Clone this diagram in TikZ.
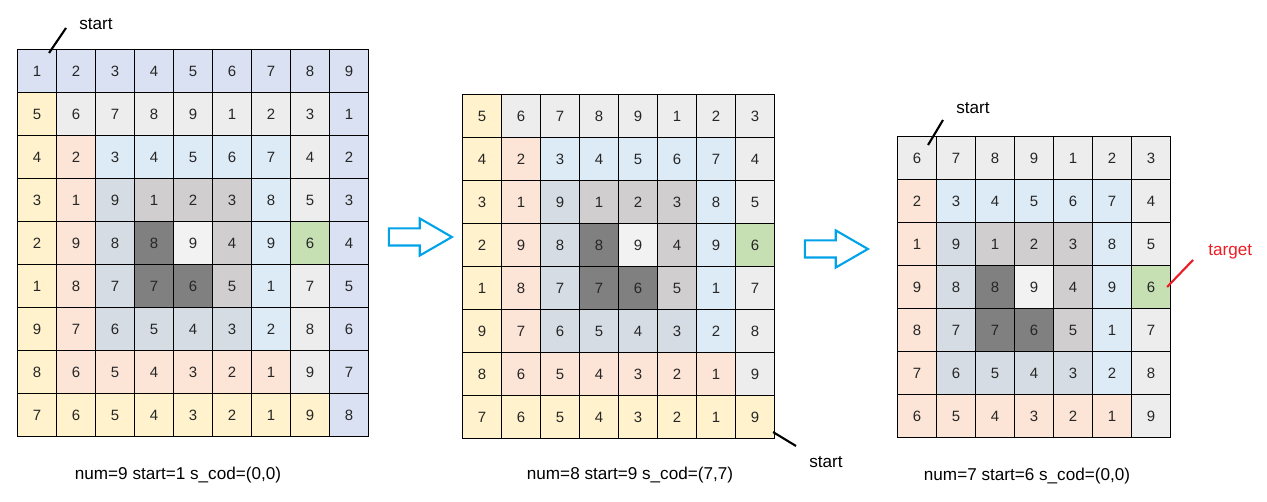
\documentclass[tikz,border=0pt]{standalone}
\usepackage{fontspec}
\setmainfont{Liberation Sans}
\usetikzlibrary{shapes.arrows}

\definecolor{colL}{HTML}{D9E1F2}
\definecolor{colY}{HTML}{FFF2CC}
\definecolor{colE}{HTML}{EDEDED}
\definecolor{colO}{HTML}{FCE4D6}
\definecolor{colB}{HTML}{DDEBF7}
\definecolor{colS}{HTML}{D6DCE4}
\definecolor{colG}{HTML}{D0CECE}
\definecolor{colK}{HTML}{808080}
\definecolor{colW}{HTML}{F2F2F2}
\definecolor{colN}{HTML}{C6E0B4}
\definecolor{flow}{RGB}{0,162,232}
\definecolor{mark red}{RGB}{237,28,36}

% the full 9x9 board, row by row
\def\boardnums{{1,2,3,4,5,6,7,8,9,
  5,6,7,8,9,1,2,3,1,
  4,2,3,4,5,6,7,4,2,
  3,1,9,1,2,3,8,5,3,
  2,9,8,8,9,4,9,6,4,
  1,8,7,7,6,5,1,7,5,
  9,7,6,5,4,3,2,8,6,
  8,6,5,4,3,2,1,9,7,
  7,6,5,4,3,2,1,9,8}}
\def\boardcols{{"L","L","L","L","L","L","L","L","L",
  "Y","E","E","E","E","E","E","E","L",
  "Y","O","B","B","B","B","B","E","L",
  "Y","O","S","G","G","G","B","E","L",
  "Y","O","S","K","W","G","B","N","L",
  "Y","O","S","K","K","G","B","E","L",
  "Y","O","S","S","S","S","B","E","L",
  "Y","O","O","O","O","O","O","E","L",
  "Y","Y","Y","Y","Y","Y","Y","Y","L"}}

% #1 name, #2/#3 top left, #4/#5 first row/col of the board, #6 size
\newcommand{\drawboard}[6]{%
  \foreach \i in {1,...,#6} {
    \foreach \j in {1,...,#6} {
      \pgfmathtruncatemacro\idx{(\i+#4-1)*9+(\j+#5-1)}
      \pgfmathtruncatemacro\val{\boardnums[\idx]}
      \pgfmathparse{\boardcols[\idx]}\let\tone\pgfmathresult
      \node[cell, fill=col\tone] (#1-\i-\j) at ({#2+(\j-1)*39},{#3+(\i-1)*43}) {\val};
    }
  }%
}

\begin{document}
\begin{tikzpicture}[x=0.02cm, y=-0.02cm,
  cell/.style={draw, line width=0.6pt, anchor=north west, inner sep=0pt,
    minimum width=0.78cm, minimum height=0.86cm, text=black!85,
    font=\fontsize{8.5}{10}\selectfont},
  caption/.style={font=\fontsize{9.75}{12}\selectfont},
  note/.style={inner sep=0pt, font=\fontsize{9.75}{12}\selectfont},
  pointer/.style={line width=1.2pt},
  flowarrow/.style={single arrow, draw=flow, line width=1.2pt, inner xsep=0pt,
    inner ysep=0.15cm, minimum height=1.26cm, single arrow head extend=0.2cm,
    single arrow tip angle=60}]

  \useasboundingbox (0,0) rectangle (1267,502);

  \drawboard{g1}{17}{49}{0}{0}{9}
  \drawboard{g2}{462}{94}{1}{0}{8}
  \drawboard{g3}{897}{136}{1}{1}{7}

  \node[flowarrow] (arr1) at (413,237) {};
  \node[flowarrow] (arr2) at (829,249) {};

  \node[caption] (cap1) at (178,475) {num=9 start=1 s\_cod=(0,0)};
  \node[caption] (cap2) at (630,475) {num=8 start=9 s\_cod=(7,7)};
  \node[caption] (cap3) at (1027,476) {num=7 start=6 s\_cod=(0,0)};

  % start markers
  \node[note, anchor=west] (st1) at (79,24) {start};
  \node[note, anchor=west] (st2) at (809,462) {start};
  \node[note, anchor=west] (st3) at (956,108) {start};
  \node[note, anchor=west, text=mark red] (tgt) at (1208,252) {target};

  \draw[pointer] ([shift={(-8,4)}]g1-1-1.north east) -- ([shift={(-13,4)}]st1.west);
  \draw[pointer] ([shift={(-2,-7)}]g2-8-8.south east) -- ([shift={(-13,-16)}]st2.west);
  \draw[pointer] ([shift={(-9,9)}]g3-1-1.north east) -- ([shift={(-13,12)}]st3.west);
  \draw[pointer, mark red] ([shift={(-4,0)}]g3-4-7.east) -- ([shift={(-15,8)}]tgt.west);

\end{tikzpicture}
\end{document}
